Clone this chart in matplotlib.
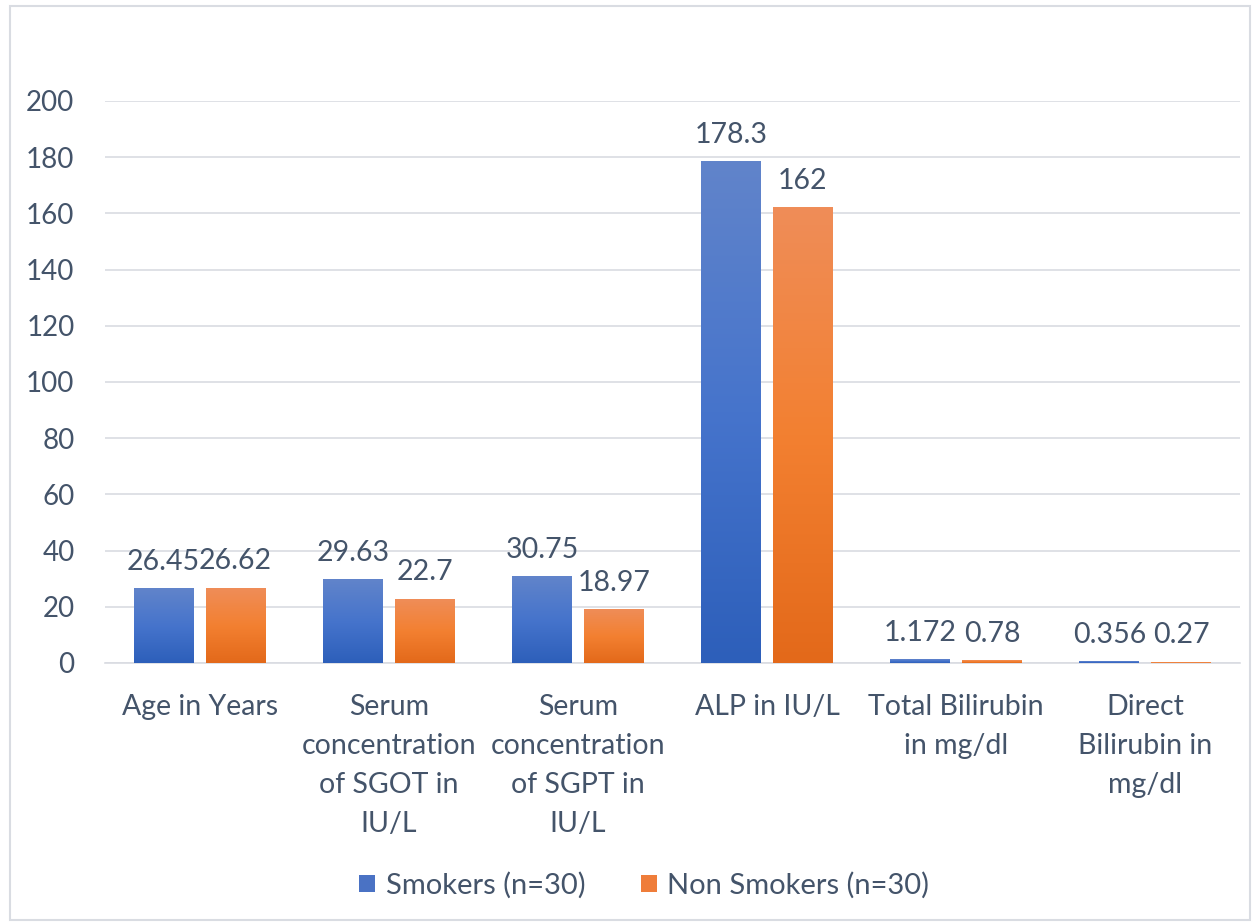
import numpy as np
import matplotlib.pyplot as plt
from matplotlib.patches import Rectangle, Patch
from matplotlib.colors import LinearSegmentedColormap

plt.rcParams['font.family'] = ['Lato', 'DejaVu Sans']

categories = ["Age in Years",
              "Serum\nconcentration\nof SGOT in\nIU/L",
              "Serum\nconcentration\nof SGPT in\nIU/L",
              "ALP in IU/L",
              "Total Bilirubin\nin mg/dl",
              "Direct\nBilirubin in\nmg/dl"]
smokers = [26.45, 29.63, 30.75, 178.3, 1.172, 0.356]
non_smokers = [26.62, 22.7, 18.97, 162, 0.78, 0.27]
smokers_lbl = ["26.45", "29.63", "30.75", "178.3", "1.172", "0.356"]
non_smokers_lbl = ["26.62", "22.7", "18.97", "162", "0.78", "0.27"]
yticks = [0, 20, 40, 60, 80, 100, 120, 140, 160, 180, 200]

text_col = "#44546a"
blue_cmap = LinearSegmentedColormap.from_list("b", ["#2d5fba", "#4674cc", "#6184ca"])
orange_cmap = LinearSegmentedColormap.from_list("o", ["#e3691a", "#f38031", "#ef8d58"])

fig = plt.figure(figsize=(12.53, 9.24), dpi=100)
ax = fig.add_axes([0.0838, 0.2825, 0.9058, 0.6082])

x = np.arange(len(categories))
w = 0.317
off = 0.19
b1 = ax.bar(x - off, smokers, w, color="#4a72c4", zorder=2)
b2 = ax.bar(x + off, non_smokers, w, color="#ef7d3a", zorder=2)

grad = np.linspace(0, 1, 256).reshape(-1, 1)
for bars, cmap in ((b1, blue_cmap), (b2, orange_cmap)):
    for p in bars:
        x0, y0 = p.get_x(), p.get_y()
        ax.imshow(grad, cmap=cmap, origin="lower", aspect="auto", zorder=3,
                  extent=(x0, x0 + p.get_width(), y0, y0 + p.get_height()))

for bars, labels in ((b1, smokers_lbl), (b2, non_smokers_lbl)):
    for p, t in zip(bars, labels):
        ax.annotate(t, (p.get_x() + p.get_width() / 2, p.get_height()),
                    xytext=(0, 10), textcoords="offset points",
                    ha="center", va="bottom", fontsize=20.5, color=text_col, zorder=4)

ax.set_xlim(-0.5, len(categories) - 0.5)
ax.set_ylim(0, 200)
ax.set_yticks(yticks)
ax.yaxis.grid(True, color="#d9dce2", linewidth=1.2, zorder=0)
ax.set_axisbelow(True)
for s in ("top", "right", "left"):
    ax.spines[s].set_visible(False)
ax.spines["bottom"].set_color("#d9dce2")
ax.spines["bottom"].set_linewidth(1.2)
ax.set_xticks(x)
ax.set_xticklabels(categories, linespacing=1.62, va="top", fontsize=20.5)
ax.tick_params(axis="both", length=0, labelsize=20, labelcolor=text_col)
ax.tick_params(axis="x", labelsize=20.5, pad=22)
ax.tick_params(axis="y", pad=22)

handles = [Patch(facecolor="#4a72c4", label="Smokers (n=30)"),
           Patch(facecolor="#ef7d3a", label="Non Smokers (n=30)")]
leg = fig.legend(handles=handles, loc="center", bbox_to_anchor=(0.514, 0.042), ncol=2,
                 frameon=False, fontsize=21, handlelength=0.55, handleheight=0.55,
                 handletextpad=0.35, columnspacing=1.9)
for t in leg.get_texts():
    t.set_color(text_col)

fig.patches.append(Rectangle((0.008, 0.004), 0.99, 0.99, transform=fig.transFigure,
                             fill=False, edgecolor="#d9dce2", linewidth=1.5))

fig.savefig("out.png", dpi=100)
